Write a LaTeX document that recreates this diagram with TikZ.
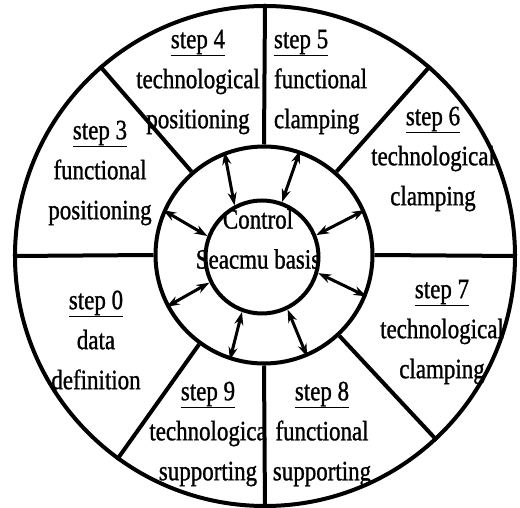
\documentclass[tikz,border=0pt]{standalone}
\usepackage{fontspec}
\setmainfont{Liberation Serif}[FakeStretch=0.82, FakeBold=1]
\usetikzlibrary{arrows.meta}

\begin{document}
\begin{tikzpicture}[x=1pt, y=1pt, >={Stealth[length=13pt, width=9pt]}, line width=4pt,
		rim/.style={circle, draw, inner sep=0pt},
		stage/.style={align=center, inner sep=0pt, font=\fontsize{28}{40}\selectfont},
		link/.style={<->, line width=3pt}]
	\useasboundingbox (-265,-252) rectangle (255,256);
	\node[rim, minimum size=500] (wheel) at (0, 0) {};
	\node[rim, minimum size=217] (ring) at (-1, 1) {};
	\node[rim, minimum size=113, stage] (ctrl) at (-3, -1) {};
	\node[stage] (control) at (-7, 17) {Control\\Seacmu basis};

	\foreach \a in {0, 49, 90, 131, 180, 234, 270, 313}
		\draw (ring.\a) -- (wheel.\a);

	\node[stage] (s4) at (-67, 174) {\underline{step 4}\\technological\\positioning};
	\node[stage, align=left, anchor=west] (s5) at (7, 174) {\underline{step 5}\\functional\\clamping};
	\node[stage] (s3) at (-165, 83) {\underline{step 3}\\functional\\positioning};
	\node[stage] (s6) at (168, 97) {\underline{step 6}\\technological\\clamping};
	\node[stage] (s0) at (-169, -84) {\underline{step 0}\\data\\definition};
	\node[stage] (s7) at (177, -76) {\underline{step 7}\\technological\\clamping};
	\node[stage] (s9) at (-57, -178) {\underline{step 9}\\technologica\\supporting};
	\node[stage] (s8) at (57, -178) {\underline{step 8}\\functional\\supporting};

	\foreach \i/\o in {118/111, 70/71, 22/24, -16/-22, -64/-67, -110/-108, -154/-152, 159/156}
		\draw[link] (ctrl.\i) -- (ring.\o);
\end{tikzpicture}
\end{document}
